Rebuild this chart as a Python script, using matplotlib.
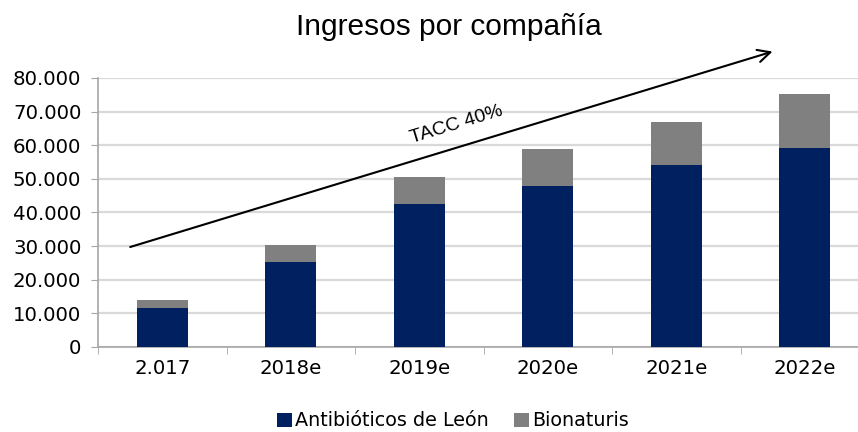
import matplotlib.pyplot as plt
from matplotlib.ticker import FuncFormatter

# Datos (miles de euros)
years = ['2.017', '2018e', '2019e', '2020e', '2021e', '2022e']
antibioticos = [11600, 25400, 42500, 47900, 54100, 59300]
bionaturis = [2400, 4900, 8000, 10900, 12900, 15900]

# Flecha TACC (en unidades de categoria / valor)
arrow_start = (-0.27, 29500)
arrow_end = (4.77, 88100)
tacc_pos = (2.29, 66000)

NAVY = '#002060'
GRAY = '#808080'
GRID = '#d9d9d9'
AXIS = '#a6a6a6'


def thousands(v, pos):
    return f'{int(v):,}'.replace(',', '.')


fig = plt.figure(figsize=(8.58, 4.32), dpi=100)
ax = fig.add_axes([98 / 858, 1 - 347 / 432, 771 / 858, 269 / 432])

x = range(len(years))
ax.bar(x, antibioticos, width=0.4, color=NAVY, label='Antibióticos de León', zorder=3)
ax.bar(x, bionaturis, width=0.4, bottom=antibioticos, color=GRAY,
       label='Bionaturis', zorder=3)

ax.set_ylim(0, 80000)
ax.set_xlim(-0.5, len(years) - 0.5)
ax.set_yticks(range(0, 80001, 10000))
ax.yaxis.set_major_formatter(FuncFormatter(thousands))
ax.grid(axis='y', color=GRID, linewidth=1.6, zorder=0)

ax.set_xticks(list(x))
ax.set_xticklabels(years)
ax.set_xticks([i + 0.5 for i in range(-1, len(years))], minor=True)
ax.tick_params(axis='x', which='major', length=0, pad=9)
ax.tick_params(axis='x', which='minor', length=5, color=AXIS)
ax.tick_params(axis='y', length=5, color=AXIS, pad=7)
ax.tick_params(labelsize=14.2, labelcolor='black')

for side in ('top', 'right'):
    ax.spines[side].set_visible(False)
for side in ('left', 'bottom'):
    ax.spines[side].set_color(AXIS)
    ax.spines[side].set_linewidth(1.2)

ax.annotate('', xy=arrow_end, xytext=arrow_start, annotation_clip=False,
            arrowprops=dict(arrowstyle='->,head_length=0.9,head_width=0.45',
                            color='black', lw=1.5))
ax.text(*tacc_pos, 'TACC 40%', rotation=17, ha='center', va='center',
        fontsize=14, family='Liberation Sans', clip_on=False)

fig.text(449 / 858, 1 - 35 / 432, 'Ingresos por compañía', ha='center',
         va='baseline', fontsize=21.5, family='Liberation Sans')

fig.legend(loc='center', bbox_to_anchor=(453 / 858, 1 - 421 / 432), ncol=2,
           frameon=False, handlelength=0.78, handleheight=0.78,
           handletextpad=0.15, columnspacing=1.3, borderaxespad=0,
           prop={'size': 13.8})

fig.savefig('out.png', dpi=100)
